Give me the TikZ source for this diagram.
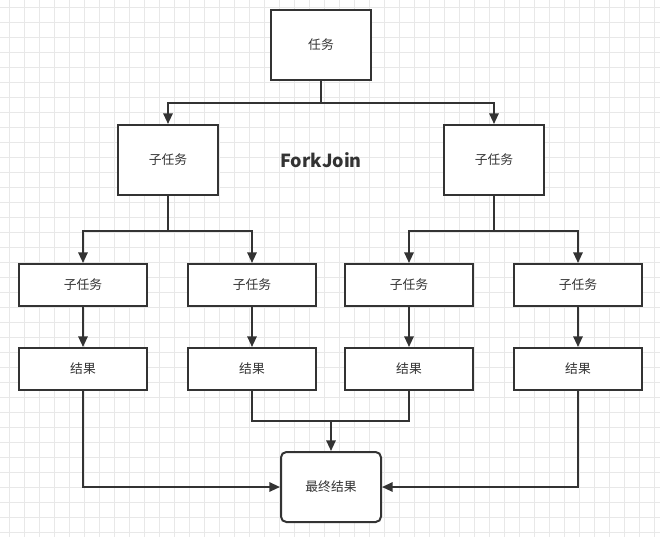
\documentclass[tikz,border=0pt]{standalone}
\usepackage{fontspec}
\setmainfont{Noto Sans CJK SC}
\usetikzlibrary{arrows.meta}
\definecolor{ink}{HTML}{333333}
\definecolor{gridc}{HTML}{E8E8E8}
\tikzset{
  box/.style={draw=ink, line width=1.5pt, fill=white, text=ink, font=\fontsize{9.6}{11}\selectfont, inner sep=0pt},
  bigbox/.style={box, minimum width=75pt, minimum height=52.5pt},
  smallbox/.style={box, minimum width=96pt, minimum height=31.5pt},
  conn/.style={draw=ink, line width=1.5pt},
  arr/.style={conn, -{Triangle[length=8pt,width=7pt]}},
}
\begin{document}
\begin{tikzpicture}[x=0.75pt,y=-0.75pt]
\useasboundingbox (0,0) rectangle (660,537);
\fill[white] (0,0) rectangle (660,537);
\foreach \i in {0,...,44} {\draw[gridc, line width=0.6pt] ({9+15*\i},0) -- ({9+15*\i},537);}
\foreach \j in {0,...,35} {\draw[gridc, line width=0.6pt] (0,{7+15*\j}) -- (660,{7+15*\j});}

\node[bigbox] (task) at (321,45) {任务};
\node[bigbox] (subL) at (168,160) {子任务};
\node[bigbox] (subR) at (494,160) {子任务};
\node[text=ink, font=\fontsize{13.5}{15}\selectfont\bfseries] (title) at (321,160) {ForkJoin};

\node[smallbox] (s1) at (83,285) {子任务};
\node[smallbox] (s2) at (252,285) {子任务};
\node[smallbox] (s3) at (409,285) {子任务};
\node[smallbox] (s4) at (578,285) {子任务};

\node[smallbox] (r1) at (83,369) {结果};
\node[smallbox] (r2) at (252,369) {结果};
\node[smallbox] (r3) at (409,369) {结果};
\node[smallbox] (r4) at (578,369) {结果};

\node[bigbox, rounded corners=4pt] (final) at (331,487) {最终结果};

\coordinate (j0) at (321,103);
\coordinate (jL) at (168,231);
\coordinate (jR) at (494,231);
\coordinate (jM) at (331,421);

\draw[conn] (task.south) -- (j0);
\draw[arr] (j0) -| (subL.north);
\draw[arr] (j0) -| (subR.north);

\draw[conn] (subL.south) -- (jL);
\draw[arr] (jL) -| (s1.north);
\draw[arr] (jL) -| (s2.north);
\draw[conn] (subR.south) -- (jR);
\draw[arr] (jR) -| (s3.north);
\draw[arr] (jR) -| (s4.north);

\draw[arr] (s1) -- (r1);
\draw[arr] (s2) -- (r2);
\draw[arr] (s3) -- (r3);
\draw[arr] (s4) -- (r4);

\draw[conn] (r2.south) |- (jM) -| (r3.south);
\draw[arr] (jM) -- (final.north);
\draw[arr] (r1.south) |- (final.west);
\draw[arr] (r4.south) |- (final.east);
\end{tikzpicture}
\end{document}
